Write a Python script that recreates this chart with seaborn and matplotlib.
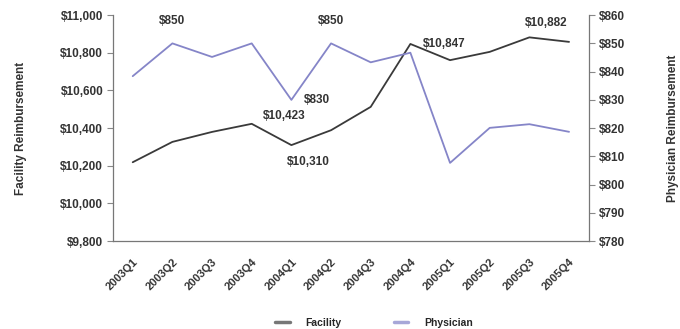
import numpy as np
import pandas as pd
import matplotlib
matplotlib.use("Agg")
import matplotlib.pyplot as plt
from matplotlib.lines import Line2D
import seaborn as sns

quarters = ["2003Q1", "2003Q2", "2003Q3", "2003Q4",
            "2004Q1", "2004Q2", "2004Q3", "2004Q4",
            "2005Q1", "2005Q2", "2005Q3", "2005Q4"]
facility = [10219, 10327, 10380, 10423, 10310, 10389, 10513, 10847,
            10761, 10805, 10882, 10858]
physician = [838.4, 850, 845.2, 850, 830, 850, 843.3, 846.7,
             807.7, 820.1, 821.4, 818.7]

left_ticks = [9800, 10000, 10200, 10400, 10600, 10800, 11000]
right_ticks = [780, 790, 800, 810, 820, 830, 840, 850, 860]

FAC_COLOR = "#3a3a3a"
PHY_COLOR = "#8585c8"

sns.set_theme(style="white")
plt.rcParams["font.family"] = ["Liberation Sans", "DejaVu Sans"]
plt.rcParams["font.weight"] = "bold"

df = pd.DataFrame({"pos": np.arange(len(quarters)),
                   "quarter": quarters,
                   "Facility": facility,
                   "Physician": physician})

fig = plt.figure(figsize=(6.8, 3.29), dpi=100)
ax = fig.add_axes([0.166, 0.267, 0.700, 0.687])
ax2 = ax.twinx()

sns.lineplot(data=df, x="pos", y="Facility", ax=ax, color=FAC_COLOR, lw=1.3)
sns.lineplot(data=df, x="pos", y="Physician", ax=ax2, color=PHY_COLOR, lw=1.3)

ax.set_xlim(-0.5, len(quarters) - 0.5)
ax.set_ylim(9800, 11000)
ax2.set_ylim(780, 860)

# category boundaries carry the tick marks, centres carry the labels
ax.set_xticks(np.arange(len(quarters) + 1) - 0.5)
ax.set_xticklabels([])
ax.set_xticks(np.arange(len(quarters)), minor=True)
ax.set_xticklabels(quarters, minor=True, rotation=45, ha="right",
                   rotation_mode="anchor", fontsize=8, fontweight="bold",
                   color="#333333")
ax.tick_params(axis="x", which="minor", length=0, pad=11)
ax.tick_params(axis="x", which="major", length=5, width=0.8,
               color="#888888", direction="out")

ax.set_yticks(left_ticks)
ax.set_yticklabels([f"${v:,}" for v in left_ticks], fontsize=8.5,
                   fontweight="bold", color="#333333")
ax2.set_yticks(right_ticks)
ax2.set_yticklabels([f"${v}" for v in right_ticks], fontsize=8.5,
                    fontweight="bold", color="#333333")
for a in (ax, ax2):
    a.tick_params(axis="y", length=4, width=0.8, color="#888888",
                  direction="out", pad=3)
    a.set_xlabel("")

ax.set_ylabel("Facility Reimbursement", fontsize=8.5, fontweight="bold",
              color="#333333", labelpad=24)
ax2.set_ylabel("Physician Reimbursement", fontsize=8.5, fontweight="bold",
               color="#333333", rotation=90, labelpad=30)

for a in (ax, ax2):
    a.spines["top"].set_visible(False)
    for s in ("left", "right", "bottom"):
        a.spines[s].set_color("#777777")
        a.spines[s].set_linewidth(0.9)
ax.spines["right"].set_visible(False)
ax2.spines["left"].set_visible(False)
ax2.spines["bottom"].set_visible(False)

ann = dict(fontsize=8.5, fontweight="bold", color="#333333",
           textcoords="offset points")
# value callouts
ax2.annotate(f"${physician[1]:.0f}", (1, physician[1]), xytext=(0, 12),
             ha="center", va="bottom", **ann)
ax2.annotate(f"${physician[5]:.0f}", (5, physician[5]), xytext=(0, 12),
             ha="center", va="bottom", **ann)
ax2.annotate(f"${physician[4]:.0f}", (4, physician[4]), xytext=(9, 0),
             ha="left", va="center", **ann)
ax.annotate(f"${facility[3]:,}", (3, facility[3]), xytext=(8, 1),
            ha="left", va="bottom", **ann)
ax.annotate(f"${facility[4]:,}", (4, facility[4]), xytext=(-3, -8),
            ha="left", va="top", **ann)
ax.annotate(f"${facility[7]:,}", (7, facility[7]), xytext=(9, 0),
            ha="left", va="center", **ann)
ax.annotate(f"${facility[10]:,}", (10, facility[10]), xytext=(-3, 6),
            ha="left", va="bottom", **ann)

handles = [Line2D([], [], color="#777777", lw=2.5),
           Line2D([], [], color="#a7a7d8", lw=2.5)]
fig.legend(handles, ["Facility", "Physician"], loc="lower center",
           bbox_to_anchor=(0.55, -0.025), ncol=2, frameon=False,
           handlelength=1.4, columnspacing=5, handletextpad=1.5,
           prop={"size": 7.5, "weight": "bold"})

fig.savefig("out.png", dpi=100, facecolor="white")
